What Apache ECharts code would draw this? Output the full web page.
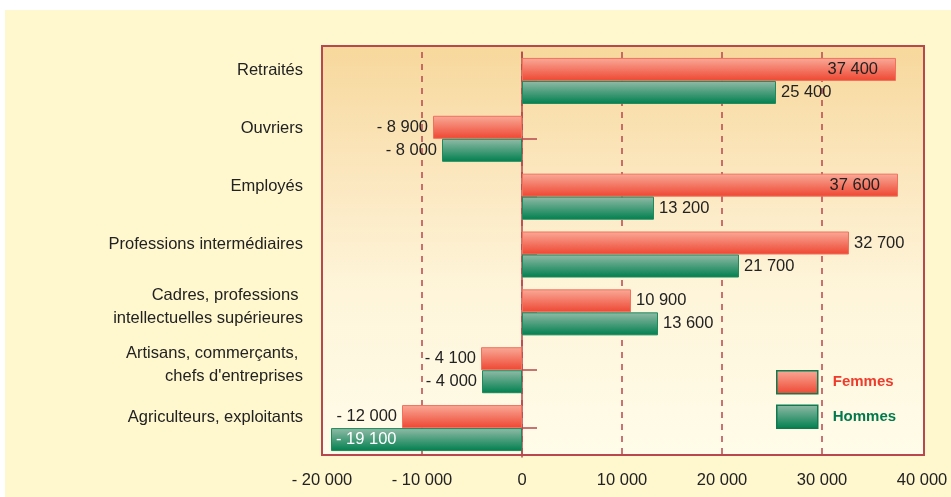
<!DOCTYPE html>
<html><head><meta charset="utf-8">
<script src="https://cdn.jsdelivr.net/npm/echarts@6/dist/echarts.min.js"></script>
<style>html,body{margin:0;padding:0;background:#fff;}#c{width:951px;height:497px;}</style>
</head><body><div id="c"></div>
<script>
const categories = ['Retraités', 'Ouvriers', 'Employés', 'Professions intermédiaires',
  'Cadres, professions \nintellectuelles supérieures', 'Artisans, commerçants, \nchefs d\'entreprises',
  'Agriculteurs, exploitants'];
const femmes = [37400, -8900, 37600, 32700, 10900, -4100, -12000];
const hommes = [25400, -8000, 13200, 21700, 13600, -4000, -19100];
const xMin = -20000, xMax = 40000, xStep = 10000;
const seriesNames = ['Femmes', 'Hommes'];

const FONT = "'Liberation Sans Narrow','Arial Narrow','Liberation Sans',sans-serif";
function fmt(v) {
  const s = Math.abs(v).toString().replace(/\B(?=(\d{3})+(?!\d))/g, ' ');
  return (v < 0 ? '- ' : '') + s;
}
function lab(v) {
  if (v > 35000) return {show: true, position: 'insideRight', distance: 18};
  if (v < -15000) return {show: true, position: 'insideLeft', distance: 5, color: '#fff'};
  return {show: true, position: v < 0 ? 'left' : 'right', distance: 5};
}
function catLabel(v) {
  const lines = v.split('\n');
  return lines.map(l => '{a|' + l + '}').join('\n') + '\n{' + (lines.length > 1 ? 's2' : 's1') + '|}';
}
const redGrad = {type: 'linear', x: 0, y: 0, x2: 0, y2: 1, colorStops: [{offset: 0, color: '#f9aa98'}, {offset: 1, color: '#ee4631'}]};
const greenGrad = {type: 'linear', x: 0, y: 0, x2: 0, y2: 1, colorStops: [{offset: 0, color: '#93bba8'}, {offset: 1, color: '#007f4e'}]};

const chart = echarts.init(document.getElementById('c'));
chart.setOption({
  animation: false,
  textStyle: {fontFamily: FONT},
  graphic: [
    {type: 'rect', z: -10, shape: {x: 5, y: 10, width: 946, height: 487}, style: {fill: '#fff7ce'}, silent: true},
    {type: 'rect', z: -9, shape: {x: 322, y: 46, width: 602, height: 409},
      style: {fill: {type: 'linear', x: 0, y: 0, x2: 0, y2: 1, colorStops: [{offset: 0, color: '#f7d89c'}, {offset: 0.3, color: '#fbe6bd'}, {offset: 0.6, color: '#fef5da'}, {offset: 1, color: '#fffce9'}]}}, silent: true},
    {type: 'rect', z: 100, shape: {x: 322, y: 46, width: 602, height: 409},
      style: {fill: 'none', stroke: '#b8484e', lineWidth: 2}, silent: true}
  ],
  grid: {left: 322, right: 29, top: 52, bottom: 40, containLabel: false},
  legend: {
    orient: 'vertical', left: 776, top: 370, itemWidth: 41, itemHeight: 23, itemGap: 10, padding: 0,
    icon: 'rect',
    itemStyle: {borderColor: '#0f7a4f', borderWidth: 1.5},
    textStyle: {fontFamily: FONT, fontSize: 15, fontWeight: 'bold', padding: [0, 0, 0, 10]},
    data: [
      {name: seriesNames[0], textStyle: {color: '#ee3b2b'}},
      {name: seriesNames[1], textStyle: {color: '#007a4c'}}
    ]
  },
  xAxis: {
    type: 'value', min: xMin, max: xMax, interval: xStep,
    axisLine: {show: false}, axisTick: {show: false},
    axisLabel: {formatter: fmt, color: '#222', fontSize: 16.5, margin: 15, fontFamily: FONT},
    splitLine: {show: true, showMinLine: false, showMaxLine: false, lineStyle: {color: '#b8464e', type: [6, 6], width: 1.5}}
  },
  yAxis: [
    {type: 'category', data: categories, inverse: true, position: 'left',
      axisLine: {show: false, onZero: false}, axisTick: {show: false},
      axisLabel: {margin: 19, formatter: catLabel,
        rich: {
          a: {color: '#222', fontSize: 16.5, lineHeight: 23.3, fontFamily: FONT},
          s1: {fontSize: 1, lineHeight: 21},
          s2: {fontSize: 1, lineHeight: 11}
        }}},
    {type: 'category', data: categories, inverse: true, position: 'left',
      axisLine: {show: true, onZero: true, lineStyle: {color: '#b8464e', width: 1.5}},
      axisTick: {show: true, inside: true, alignWithLabel: true, length: 15, lineStyle: {color: '#b8464e', width: 1.5}},
      axisLabel: {show: false}}
  ],
  series: [
    {name: seriesNames[0], type: 'bar', yAxisIndex: 0, barWidth: 23, barGap: '0%',
      itemStyle: {color: redGrad, borderColor: '#f2705c', borderWidth: 1},
      label: {color: '#222', fontSize: 16.5, fontFamily: FONT, formatter: p => fmt(p.value)},
      data: femmes.map(v => ({value: v, label: lab(v)}))},
    {name: seriesNames[1], type: 'bar', yAxisIndex: 0, barWidth: 23, barGap: '0%',
      itemStyle: {color: greenGrad, borderColor: '#1b8a5c', borderWidth: 1},
      label: {color: '#222', fontSize: 16.5, fontFamily: FONT, formatter: p => fmt(p.value)},
      data: hommes.map(v => ({value: v, label: lab(v)}))}
  ]
});
</script></body></html>
